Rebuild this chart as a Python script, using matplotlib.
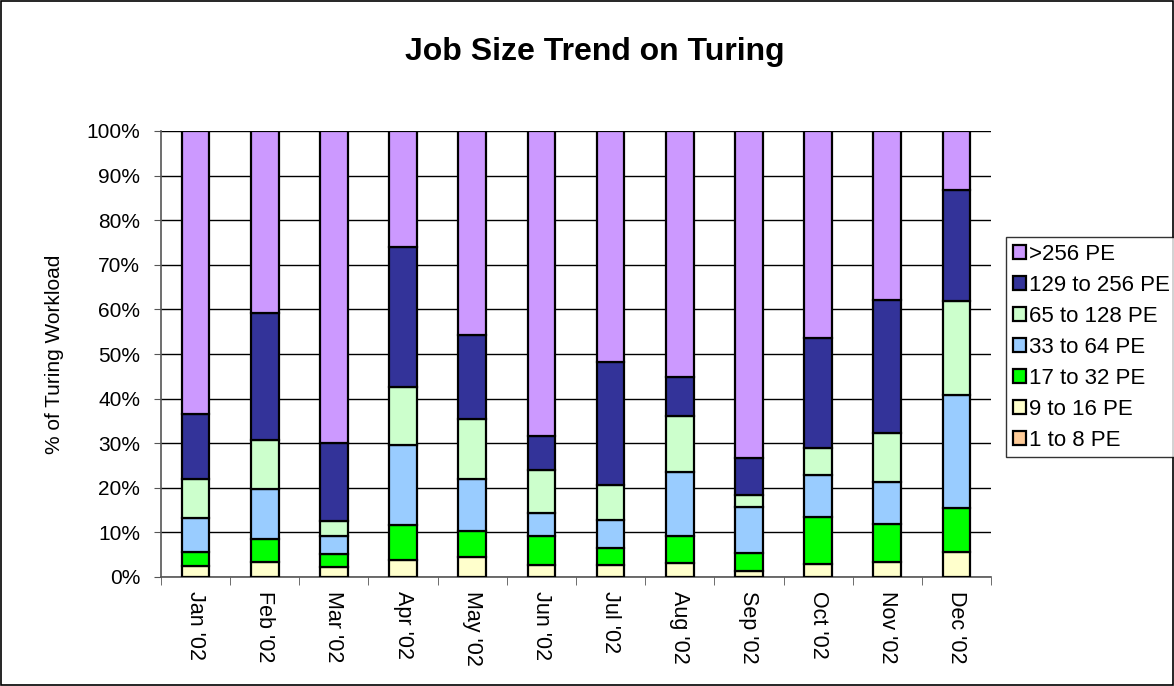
import numpy as np
import matplotlib
matplotlib.use("Agg")
import matplotlib.pyplot as plt
from matplotlib.patches import Rectangle

plt.rcParams['font.family'] = ['Liberation Sans', 'DejaVu Sans']

months = ["Jan '02", "Feb '02", "Mar '02", "Apr '02", "May '02", "Jun '02",
          "Jul '02", "Aug '02", "Sep '02", "Oct '02", "Nov '02", "Dec '02"]

# shares of the workload in percent (bottom to top)
pe_1_8 = [0.0, 0.0, 0.0, 0.0, 0.0, 0.0, 0.0, 0.0, 0.0, 0.0, 0.0, 0.0]
pe_9_16 = [2.5, 3.4, 2.2, 3.7, 4.4, 2.8, 2.8, 3.1, 1.3, 2.9, 3.4, 5.7]
pe_17_32 = [3.2, 5.1, 3.0, 8.0, 5.9, 6.5, 3.7, 6.2, 4.0, 10.6, 8.4, 9.8]
pe_33_64 = [7.6, 11.2, 3.9, 18.0, 11.6, 5.0, 6.3, 14.2, 10.5, 9.4, 9.6, 25.2]
pe_65_128 = [8.6, 11.0, 3.5, 13.0, 13.5, 9.8, 7.8, 12.6, 2.5, 6.0, 10.8, 21.1]
pe_129_256 = [14.6, 28.6, 17.4, 31.4, 18.9, 7.5, 27.5, 8.7, 8.3, 24.6, 29.9, 25.0]
pe_over_256 = [63.5, 40.7, 70.0, 25.9, 45.7, 68.4, 51.9, 55.2, 73.4, 46.5, 37.9, 13.2]

series = [
    ("1 to 8 PE", pe_1_8, "#FFCC99"),
    ("9 to 16 PE", pe_9_16, "#FFFFCC"),
    ("17 to 32 PE", pe_17_32, "#00FF00"),
    ("33 to 64 PE", pe_33_64, "#99CCFF"),
    ("65 to 128 PE", pe_65_128, "#CCFFCC"),
    ("129 to 256 PE", pe_129_256, "#333399"),
    (">256 PE", pe_over_256, "#CC99FF"),
]

fig = plt.figure(figsize=(11.74, 6.86), dpi=100)
ax = fig.add_axes([161 / 1174, 1 - 577 / 686, 830 / 1174, 446 / 686])

x = np.arange(len(months))
bottom = np.zeros(len(months))
handles = []
for label, vals, color in series:
    bars = ax.bar(x, vals, width=0.4, bottom=bottom, color=color,
                  edgecolor="black", linewidth=1.6, label=label, zorder=3)
    handles.append(bars)
    bottom += np.array(vals)

ax.set_xlim(-0.5, len(months) - 0.5)
ax.set_ylim(0, 100)
ax.set_yticks(np.arange(0, 101, 10))
ax.set_yticklabels([f"{v}%" for v in range(0, 101, 10)], fontsize=15)
ax.yaxis.grid(True, color="black", linewidth=1.0, zorder=0)
ax.set_axisbelow(True)

ax.set_xticks(x)
ax.set_xticklabels(months, rotation=270, fontsize=15.5)
ax.set_xticks(np.arange(-0.5, len(months)), minor=True)
ax.tick_params(axis="x", which="major", length=0, pad=10)
ax.tick_params(axis="x", which="minor", length=6, color="#555555")
ax.tick_params(axis="y", length=5, color="#555555", pad=10)

for side in ["top", "right"]:
    ax.spines[side].set_visible(False)
for side in ["left", "bottom"]:
    ax.spines[side].set_color("#555555")
    ax.spines[side].set_linewidth(1.2)

ax.set_ylabel("% of Turing Workload", fontsize=15, labelpad=16)

fig.text(595 / 1174, 1 - 52 / 686, "Job Size Trend on Turing", ha="center", va="center",
         fontsize=23, fontweight="bold")

leg = fig.legend(handles[::-1], [s[0] for s in series][::-1],
                 loc="upper left", bbox_to_anchor=(1006 / 1174, 1 - 237 / 686),
                 fontsize=16, frameon=True, fancybox=False, edgecolor="black",
                 handlelength=0.6, handleheight=0.6, handletextpad=0.15,
                 labelspacing=0.45, borderpad=0.3, borderaxespad=0)
leg.get_frame().set_linewidth(1.0)

fig.patches.append(Rectangle((0.001, 0.001), 0.998, 0.998, transform=fig.transFigure,
                             fill=False, edgecolor="black", linewidth=1.2))

fig.savefig("out.png", dpi=100)
